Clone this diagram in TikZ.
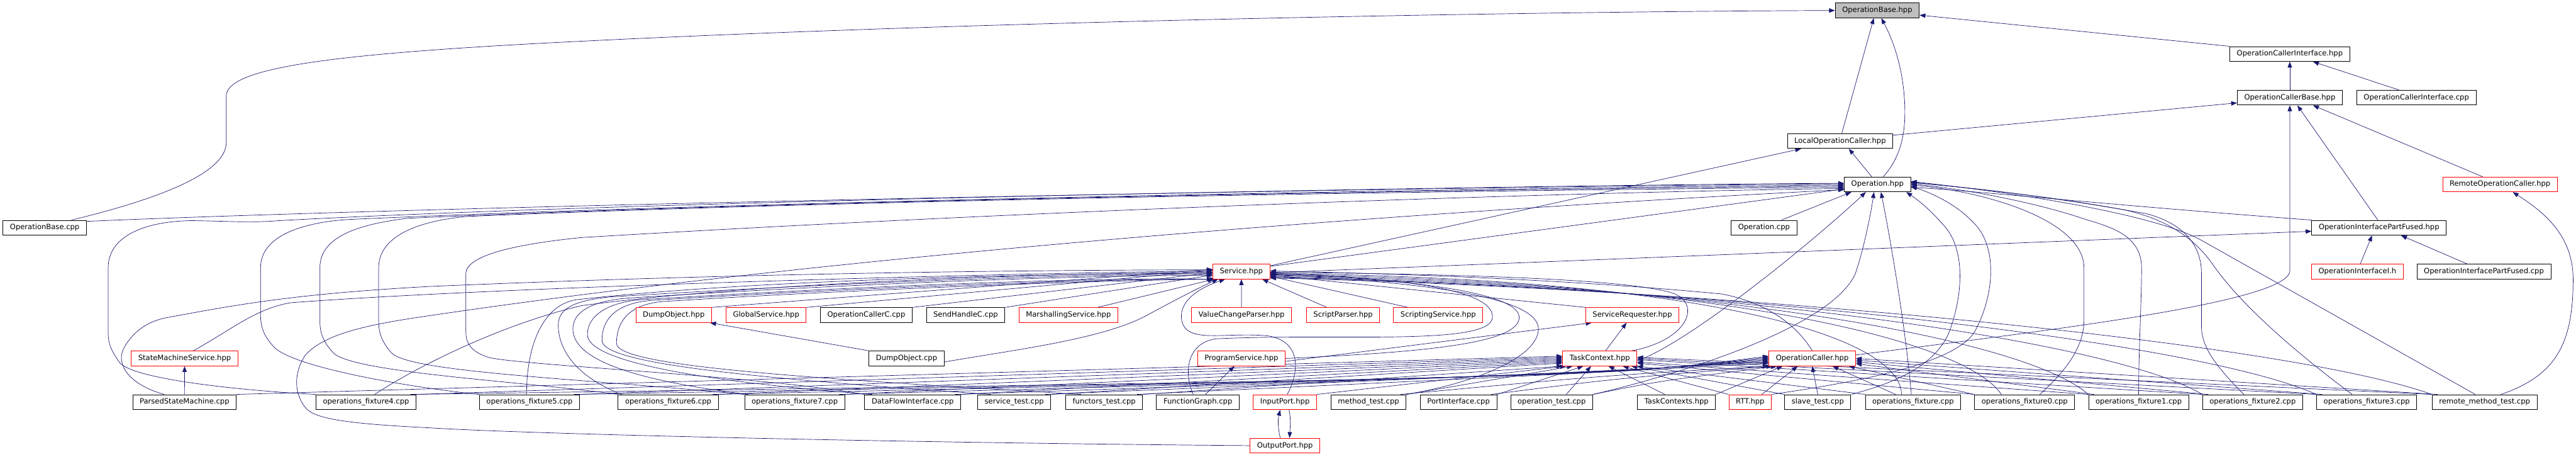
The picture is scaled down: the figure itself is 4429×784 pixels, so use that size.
\documentclass[tikz,border=0pt]{standalone}
\usepackage{fontspec}
\newfontfamily\dxfont{DejaVu Sans}
\usetikzlibrary{arrows.meta}
\definecolor{edgeBlue}{RGB}{25,25,112}
\definecolor{nodeGray}{RGB}{191,191,191}
\pgfdeclarelayer{bg}
\pgfsetlayers{bg,main}
\tikzset{
  file/.style={draw=black, fill=white, line width=1pt, inner xsep=12pt, inner ysep=0pt,
    minimum height=25.5pt, text height=9.3pt, text depth=2.7pt,
    font={\dxfont\fontsize{12.5pt}{15pt}\selectfont}},
  redfile/.style={file, draw=red},
  mainfile/.style={file, fill=nodeGray},
  inc/.style={draw=edgeBlue, line width=0.75pt, -{Triangle[length=10pt,width=7.5pt]}},
}

\begin{document}
\begin{tikzpicture}[x=1pt,y=-1pt]
    \useasboundingbox (0,0) rectangle (4429,784);
    % upper part
    \node[mainfile] (obh) at (3227.6,18) {OperationBase.hpp};
    \node[file] (oci) at (3936.9,92.75) {OperationCallerInterface.hpp};
    \node[file] (ocb) at (3936.9,167.75) {OperationCallerBase.hpp};
    \node[file] (ocicpp) at (4154.5,167.75) {OperationCallerInterface.cpp};
    \node[file] (loc) at (3163.7,242.25) {LocalOperationCaller.hpp};
    \node[file] (op) at (3228,316.75) {Operation.hpp};
    \node[redfile] (roc) at (4298.3,316.75) {RemoteOperationCaller.hpp};
    \node[file] (obcpp) at (76.9,391.25) {OperationBase.cpp};
    \node[file] (opcpp) at (3032.9,391.25) {Operation.cpp};
    \node[file] (oipf) at (4090.3,391.25) {OperationInterfacePartFused.hpp};
    \node[redfile] (svc) at (2134.3,466.5) {Service.hpp};
    \node[redfile] (oii) at (4053.1,466.5) {OperationInterfaceI.h};
    \node[file] (oipfcpp) at (4270.6,466.5) {OperationInterfacePartFused.cpp};
    % below Service.hpp
    \node[redfile] (dumph) at (1158.4,541.25) {DumpObject.hpp};
    \node[redfile] (glob) at (1317.2,541.25) {GlobalService.hpp};
    \node[file] (occ) at (1489.5,541.25) {OperationCallerC.cpp};
    \node[file] (shc) at (1660.2,541.25) {SendHandleC.cpp};
    \node[redfile] (marsh) at (1837,541.25) {MarshallingService.hpp};
    \node[redfile] (vcp) at (2134.5,541.25) {ValueChangeParser.hpp};
    \node[redfile] (sp) at (2309.2,541.25) {ScriptParser.hpp};
    \node[redfile] (ss) at (2472.7,541.25) {ScriptingService.hpp};
    \node[redfile] (sr) at (2806.5,541.25) {ServiceRequester.hpp};
    \node[redfile] (sms) at (317.4,615.75) {StateMachineService.hpp};
    \node[file] (dumpcpp) at (1558.7,615.75) {DumpObject.cpp};
    \node[redfile] (ps) at (2134.3,615.75) {ProgramService.hpp};
    \node[redfile] (tc) at (2750.5,615.75) {TaskContext.hpp};
    \node[redfile] (opc) at (3115.8,615.75) {OperationCaller.hpp};
    % bottom row
    \node[file] (psm) at (317.2,690.75) {ParsedStateMachine.cpp};
    \node[file] (of4) at (629.3,690.75) {operations\_fixture4.cpp};
    \node[file] (of5) at (910.4,690.75) {operations\_fixture5.cpp};
    \node[file] (of6) at (1148.9,690.75) {operations\_fixture6.cpp};
    \node[file] (of7) at (1366.3,690.75) {operations\_fixture7.cpp};
    \node[file] (dfi) at (1569.2,690.75) {DataFlowInterface.cpp};
    \node[file] (stest) at (1743.8,690.75) {service\_test.cpp};
    \node[file] (ftest) at (1898.4,690.75) {functors\_test.cpp};
    \node[file] (fg) at (2059.5,690.75) {FunctionGraph.cpp};
    \node[redfile] (ip) at (2209.2,690.75) {InputPort.hpp};
    \node[file] (mtest) at (2353,690.75) {method\_test.cpp};
    \node[file] (pi) at (2507.7,690.75) {PortInterface.cpp};
    \node[file] (otest) at (2667.8,690.75) {operation\_test.cpp};
    \node[file] (tcs) at (2882.5,690.75) {TaskContexts.hpp};
    \node[redfile] (rtt) at (3009,690.75) {RTT.hpp};
    \node[file] (slave) at (3125.3,690.75) {slave\_test.cpp};
    \node[file] (of) at (3289.2,690.75) {operations\_fixture.cpp};
    \node[file] (of0) at (3481,690.75) {operations\_fixture0.cpp};
    \node[file] (of1) at (3677,690.75) {operations\_fixture1.cpp};
    \node[file] (of2) at (3873,690.75) {operations\_fixture2.cpp};
    \node[file] (of3) at (4069.1,690.75) {operations\_fixture3.cpp};
    \node[file] (rmt) at (4271.8,690.75) {remote\_method\_test.cpp};
    \node[redfile] (outp) at (2209.2,765.5) {OutputPort.hpp};

    \begin{pgfonlayer}{bg}
    % into OperationBase.hpp and the caller headers
    \draw[inc] ([xshift=46pt]obcpp.north) .. controls (260,345) and (389,300) .. (389,245) -- (389,165)
        .. controls (389,118) and (560,95) .. (900,76) .. controls (1600,38) and (2600,20) .. (obh.west);
    \draw[inc] ([xshift=3pt]loc.north) -- ([xshift=-6pt]obh.south);
    \draw[inc] ([xshift=10pt]op.north) .. controls (3268,270) and (3276,230) .. (3275,185)
        .. controls (3273,110) and (3250,60) .. ([xshift=7pt]obh.south);
    \draw[inc] (oci.north west) -- ([yshift=-8pt]obh.east);
    \draw[inc] (ocb.north) -- (oci.south);
    \draw[inc] ([xshift=-30pt]ocicpp.north) -- ([xshift=40pt]oci.south);
    \draw[inc] ([yshift=10pt]loc.east) -- ([yshift=-9pt]ocb.west);
    \draw[inc] ([xshift=-2pt]oipf.north) -- ([xshift=13pt]ocb.south);
    \draw[inc] ([xshift=-30pt]roc.north) -- ([xshift=40pt]ocb.south);
    \draw[inc] ([yshift=6pt]opc.east) .. controls (3500,570) and (3937,520) .. (3937,465) -- (ocb.south);
    \draw[inc] ([xshift=-10pt]op.north) -- ([xshift=15pt]loc.south);
    \draw[inc] ([yshift=10pt]svc.east) -- ([xshift=-67pt]loc.south);
    \draw[inc] ([xshift=28pt]rmt.north) .. controls (4395,645) and (4424,590) .. (4424,480)
        .. controls (4424,405) and (4375,365) .. ([xshift=22pt]roc.south);
    \draw[inc] ([xshift=5pt]oii.north) -- ([xshift=-12pt]oipf.south);
    \draw[inc] ([xshift=-29pt]oipfcpp.north) -- ([xshift=38pt]oipf.south);
    \draw[inc] ([yshift=-2pt]svc.east) -- ([yshift=-6pt]oipf.west);

    % into Operation.hpp
    \draw[inc] (oipf.north west) .. controls (3600,350) and (3400,328) .. ([yshift=-5pt]op.east);
    \draw[inc] ([xshift=30pt]opcpp.north) -- ([xshift=-45pt]op.south);
    \draw[inc] ([yshift=9pt]svc.east) -- ([yshift=-8pt]op.west);
    \draw[inc] ([yshift=11pt]obcpp.east) .. controls (800,352) and (2500,320) .. ([yshift=1pt]op.west);
    \draw[inc] (of4.north west) .. controls (400,670) and (225,650) .. (205,622) .. controls (190,600) and (186,590) .. (186,570)
        -- (186,460) .. controls (186,405) and (250,380) .. (330,379) .. controls (400,380) and (430,383) .. (480,379)
        .. controls (1100,345) and (2600,318) .. ([yshift=2pt]op.west);
    \draw[inc] (of5.north west) .. controls (700,665) and (500,630) .. (470,595) .. controls (452,575) and (448,560) .. (448,540)
        -- (448,460) .. controls (448,405) and (520,382) .. (600,377) .. controls (1300,345) and (2600,322) .. ([yshift=-1pt]op.west);
    \draw[inc] (of6.north west) .. controls (900,655) and (600,640) .. (572,605) .. controls (554,585) and (550,570) .. (550,550)
        -- (550,460) .. controls (550,405) and (620,385) .. (700,375) .. controls (1400,343) and (2600,324) .. ([yshift=-3pt]op.west);
    \draw[inc] (of7.north west) .. controls (1000,650) and (700,640) .. (672,605) .. controls (655,585) and (651,570) .. (651,550)
        -- (651,460) .. controls (651,405) and (720,380) .. (800,372) .. controls (1500,342) and (2600,326) .. ([yshift=-5pt]op.west);
    \draw[inc] (dfi.north west) .. controls (1300,645) and (900,628) .. (840,614) .. controls (810,604) and (801,590) .. (801,570)
        -- (801,470) .. controls (801,440) and (880,420) .. (1000,408) .. controls (1800,360) and (2700,330) .. ([yshift=-7pt]op.west);
    \draw[inc] (outp.west) .. controls (1500,760) and (900,745) .. (740,735) .. controls (600,728) and (540,720) .. (525,700)
        .. controls (505,675) and (505,640) .. (525,610) .. controls (560,570) and (650,555) .. (740,542)
        .. controls (1500,430) and (2500,360) .. ([yshift=-9pt]op.west);
    \draw[inc] ([yshift=-4pt]tc.east) .. controls (2900,590) and (3100,430) .. ([xshift=-20pt]op.south);
    \draw[inc] (otest.north east) .. controls (2900,640) and (3150,560) .. (3190,470)
        .. controls (3205,425) and (3216,370) .. ([xshift=-6pt]op.south);
    \draw[inc] ([xshift=-3pt]of.north) .. controls (3276,560) and (3250,410) .. ([xshift=6pt]op.south);
    \draw[inc] (slave.north east) .. controls (3290,650) and (3340,610) .. (3355,560) .. controls (3378,490) and (3375,420) .. (3340,385)
        .. controls (3320,362) and (3300,345) .. ([xshift=-8pt]op.south east);
    \draw[inc] (rtt.north east) .. controls (3200,655) and (3360,625) .. (3395,570) .. controls (3430,505) and (3432,430) .. (3400,390)
        .. controls (3370,355) and (3330,335) .. ([yshift=-3pt]op.east);
    \draw[inc] ([xshift=26pt]of0.north) .. controls (3560,630) and (3583,590) .. (3583,550) -- (3583,460)
        .. controls (3583,380) and (3420,330) .. ([yshift=-1pt]op.east);
    \draw[inc] (of1.north) .. controls (3677,600) and (3682,520) .. (3682,460) .. controls (3682,400) and (3620,388) .. (3580,375)
        .. controls (3500,348) and (3380,325) .. ([yshift=1pt]op.east);
    \draw[inc] ([xshift=-15pt]of2.north) .. controls (3800,620) and (3785,590) .. (3785,560) -- (3785,470)
        .. controls (3785,410) and (3740,380) .. (3690,367) .. controls (3500,333) and (3360,320) .. ([yshift=3pt]op.east);
    \draw[inc] ([xshift=-25pt]of3.north) .. controls (3940,600) and (3850,520) .. (3805,455) .. controls (3770,405) and (3720,375) .. (3650,360)
        .. controls (3500,333) and (3360,321) .. ([yshift=4pt]op.east);
    \draw[inc] ([xshift=-16pt]rmt.north) -- (3780,410) .. controls (3700,370) and (3500,335) .. ([yshift=5pt]op.east);

    % into Service.hpp
    \draw[inc] ([xshift=15pt]sms.north) .. controls (400,565) and (440,530) .. (500,520) .. controls (900,490) and (1800,468) .. ([yshift=1pt]svc.west);
    \draw[inc] ([xshift=-35pt]psm.north) .. controls (220,660) and (200,625) .. (212,600) .. controls (230,565) and (260,550) .. (290,545)
        .. controls (400,525) and (500,505) .. (740,492) .. controls (1300,468) and (1800,464) .. ([yshift=3pt]svc.west);
    \draw[inc] ([xshift=15pt]of4.north) .. controls (700,640) and (850,560) .. (1000,525) .. controls (1300,485) and (1800,470) .. ([yshift=-1pt]svc.west);
    \draw[inc] ([xshift=-5pt]of5.north) .. controls (905,600) and (930,525) .. (990,515) .. controls (1300,480) and (1800,470) .. ([yshift=-3pt]svc.west);
    \draw[inc] ([xshift=-80pt]of6.north) .. controls (985,645) and (958,595) .. (960,555) .. controls (962,525) and (1000,515) .. (1050,510)
        .. controls (1500,482) and (1900,470) .. ([yshift=-5pt]svc.west);
    \draw[inc] ([xshift=-80pt]of7.north) .. controls (1060,650) and (985,610) .. (985,565) .. controls (985,530) and (1030,516) .. (1080,512)
        .. controls (1500,485) and (1900,472) .. ([yshift=-7pt]svc.west);
    \draw[inc] ([xshift=-70pt]dfi.north) .. controls (1200,655) and (1010,620) .. (1010,575) .. controls (1010,535) and (1060,518) .. (1100,515)
        .. controls (1500,490) and (1900,476) .. (svc.south west);
    \draw[inc] ([xshift=-40pt]stest.north) .. controls (1300,650) and (1035,625) .. (1035,585) .. controls (1035,540) and (1070,520) .. (1120,516)
        .. controls (1500,492) and (1950,478) .. ([xshift=5pt]svc.south west);
    \draw[inc] ([xshift=-40pt]ftest.north) .. controls (1400,650) and (1060,630) .. (1060,590) .. controls (1060,545) and (1090,522) .. (1140,518)
        .. controls (1500,495) and (1950,480) .. ([xshift=10pt]svc.south west);
    \draw[inc] (dumph.north east) -- ([yshift=4pt]svc.west);
    \draw[inc] (glob.north east) -- ([yshift=2pt]svc.west);
    \draw[inc] (occ.north east) -- ([yshift=-2pt]svc.west);
    \draw[inc] (shc.north east) -- ([yshift=-6pt]svc.west);
    \draw[inc] ([xshift=50pt]marsh.north) -- ([xshift=2pt]svc.south west);
    \draw[inc] (dumpcpp.north west) -- ([xshift=-3pt]dumph.south east);
    \draw[inc] ([yshift=-6pt]dumpcpp.east) .. controls (1750,600) and (1900,582) .. (1975,540)
        .. controls (2030,510) and (2070,490) .. ([xshift=-40pt]svc.south);
    \draw[inc] (vcp.north) -- (svc.south);
    \draw[inc] ([xshift=-28pt]sp.north) -- ([xshift=36pt]svc.south);
    \draw[inc] ([xshift=-52pt]ss.north) -- ([yshift=-8pt]svc.east);
    \draw[inc] (sr.north west) -- ([yshift=-6pt]svc.east);
    \draw[inc] (ps.east) .. controls (2450,605) and (2612,590) .. (2612,545) .. controls (2612,500) and (2400,478) .. ([yshift=-4pt]svc.east);
    \draw[inc] ([xshift=-8pt]fg.north) .. controls (2035,640) and (2040,590) .. (2090,582) .. controls (2300,572) and (2564,595) .. (2566,545)
        .. controls (2568,495) and (2400,478) .. ([yshift=-2pt]svc.east);
    \draw[inc] ([xshift=4pt]ip.north) .. controls (2238,630) and (2232,585) .. (2180,577) .. controls (2110,570) and (2045,590) .. (2033,555)
        .. controls (2022,520) and (2060,495) .. ([xshift=-28pt]svc.south);
    \draw[inc] ([xshift=55pt]tc.north) .. controls (2900,585) and (2925,525) .. (2880,505) .. controls (2800,475) and (2400,470) .. ([yshift=-1pt]svc.east);
    \draw[inc] (mtest.north east) .. controls (2550,655) and (2645,610) .. (2645,565) .. controls (2645,510) and (2450,485) .. ([yshift=-5pt]svc.east);
    \draw[inc] (opc.north) .. controls (3090,560) and (3040,520) .. (2960,505) .. controls (2700,480) and (2400,470) .. ([yshift=1pt]svc.east);
    \draw[inc] ([xshift=-20pt]of.north) .. controls +(0,-90) and +(800,10) .. ([yshift=-3pt]svc.east);
    \draw[inc] ([xshift=-40pt]of0.north) .. controls +(-60,-90) and +(800,12) .. ([yshift=-5pt]svc.east);
    \draw[inc] (of1.north west) .. controls +(-100,-90) and +(800,14) .. ([yshift=-7pt]svc.east);
    \draw[inc] (of2.north west) .. controls +(-150,-90) and +(800,16) .. ([yshift=-9pt]svc.east);
    \draw[inc] (of3.north west) .. controls +(-200,-90) and +(800,18) .. ([yshift=-10pt]svc.east);
    \draw[inc] (rmt.north west) .. controls +(-250,-90) and +(800,20) .. ([yshift=-11pt]svc.east);

    % small links
    \draw[inc] (psm.north) -- (sms.south);
    \draw[inc] ([xshift=13pt]fg.north) -- ([xshift=-12pt]ps.south);
    \draw[inc] ([yshift=-5pt]ps.east) -- ([xshift=-70pt]sr.south);
    \draw[inc] ([xshift=10pt]tc.north) -- ([xshift=-10pt]sr.south);
    \draw[inc] ([xshift=-8pt]outp.north) .. controls (2197,735) and (2197,720) .. ([xshift=-8pt]ip.south);
    \draw[inc] ([xshift=7pt]ip.south) .. controls (2220,720) and (2218,735) .. ([xshift=8pt]outp.north);

    % into TaskContext.hpp
    \draw[inc] (psm.north east) -- ([yshift=4pt]tc.west);
    \draw[inc] (of4.north east) -- ([yshift=2pt]tc.west);
    \draw[inc] (of5.north east) -- (tc.west);
    \draw[inc] (of6.north east) -- ([yshift=-2pt]tc.west);
    \draw[inc] (of7.north east) -- ([yshift=-4pt]tc.west);
    \draw[inc] (dfi.north east) -- ([yshift=-6pt]tc.west);
    \draw[inc] (stest.north east) -- ([yshift=-8pt]tc.west);
    \draw[inc] (ftest.north east) -- (tc.south west);
    \draw[inc] (ip.north east) -- ([xshift=6pt]tc.south west);
    \draw[inc] (mtest.north east) -- ([xshift=18pt]tc.south west);
    \draw[inc] (pi.north east) -- ([xshift=36pt]tc.south west);
    \draw[inc] ([xshift=25pt]otest.north) -- ([xshift=-15pt]tc.south);
    \draw[inc] ([xshift=-20pt]tcs.north) -- ([xshift=15pt]tc.south);
    \draw[inc] (rtt.north west) -- ([xshift=-25pt]tc.south east);
    \draw[inc] (slave.north west) -- ([xshift=-10pt]tc.south east);
    \draw[inc] (of.north west) -- (tc.south east);
    \draw[inc] (of0.north west) -- ([yshift=-8pt]tc.east);
    \draw[inc] (of1.north west) -- ([yshift=-6pt]tc.east);
    \draw[inc] (of2.north west) -- ([yshift=-2pt]tc.east);
    \draw[inc] (of3.north west) -- ([yshift=0pt]tc.east);
    \draw[inc] (rmt.north west) -- ([yshift=2pt]tc.east);

    % into OperationCaller.hpp
    \draw[inc] ([xshift=-10pt]of4.north east) .. controls (2750,648) .. ([yshift=4pt]opc.west);
    \draw[inc] ([xshift=-10pt]of5.north east) .. controls (2750,646) .. ([yshift=2pt]opc.west);
    \draw[inc] ([xshift=-10pt]of6.north east) .. controls (2750,644) .. (opc.west);
    \draw[inc] ([xshift=-10pt]of7.north east) .. controls (2750,642) .. ([yshift=-2pt]opc.west);
    \draw[inc] ([xshift=-10pt]dfi.north east) .. controls (2750,640) .. ([yshift=-4pt]opc.west);
    \draw[inc] ([xshift=-10pt]stest.north east) .. controls (2750,638) .. ([yshift=-6pt]opc.west);
    \draw[inc] ([xshift=-10pt]ftest.north east) .. controls (2750,640) .. ([yshift=-8pt]opc.west);
    \draw[inc] ([xshift=-10pt]mtest.north east) .. controls (2760,645) .. (opc.south west);
    \draw[inc] ([xshift=-10pt]pi.north east) .. controls (2780,650) .. ([xshift=6pt]opc.south west);
    \draw[inc] (otest.north east) .. controls (2850,655) .. ([xshift=14pt]opc.south west);
    \draw[inc] (tcs.north east) -- ([xshift=24pt]opc.south west);
    \draw[inc] ([xshift=20pt]rtt.north) -- ([xshift=-25pt]opc.south);
    \draw[inc] (slave.north) -- (opc.south);
    \draw[inc] ([xshift=-30pt]of.north) -- ([xshift=35pt]opc.south);
    \draw[inc] (of0.north west) -- ([xshift=-12pt]opc.south east);
    \draw[inc] ([xshift=10pt]of1.north west) -- ([yshift=-9pt]opc.east);
    \draw[inc] ([xshift=10pt]of2.north west) -- ([yshift=-6pt]opc.east);
    \draw[inc] ([xshift=10pt]of3.north west) -- ([yshift=-3pt]opc.east);
    \draw[inc] ([xshift=10pt]rmt.north west) -- (opc.east);
    \end{pgfonlayer}

\end{tikzpicture}
\end{document}
